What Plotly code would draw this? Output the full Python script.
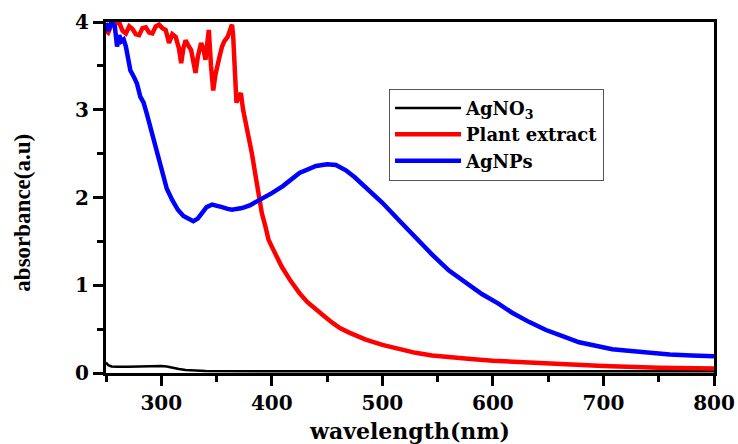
import plotly.graph_objects as go

# ---- data ----
agno3_x = [250, 252, 255, 260, 270, 280, 290, 300, 305, 310, 316, 322, 328, 340, 400, 500, 600, 700, 800]
agno3_y = [0.12, 0.09, 0.075, 0.07, 0.07, 0.075, 0.08, 0.08, 0.075, 0.06, 0.045, 0.035, 0.028, 0.022, 0.02, 0.02, 0.02, 0.02, 0.02]

plant_x = [250, 252, 255, 258, 262, 265, 268, 271, 274, 277, 280, 283, 286, 289, 292, 295, 298, 301, 304,
           307, 310, 313, 316, 318, 320, 322, 325, 327, 329, 331, 333, 336, 338, 340, 342, 343, 345, 347,
           349, 351, 353, 355, 357, 360, 362, 364, 365, 366, 368, 370, 372, 374, 376, 379, 382, 385, 388,
           391, 394, 397, 400, 405, 409, 417, 425, 432, 440, 448, 455, 462, 470, 485, 500, 515, 530, 545,
           560, 580, 600, 630, 660, 700, 750, 800]
plant_y = [3.9, 3.88, 3.97, 3.99, 3.99, 3.9, 3.87, 3.95, 3.92, 3.86, 3.85, 3.93, 3.94, 3.88, 3.87, 3.95, 3.97,
           3.93, 3.91, 3.76, 3.86, 3.83, 3.7, 3.53, 3.7, 3.79, 3.72, 3.68, 3.55, 3.42, 3.6, 3.76, 3.7, 3.57,
           3.8, 3.91, 3.5, 3.22, 3.4, 3.49, 3.62, 3.72, 3.78, 3.83, 3.9, 3.97, 3.85, 3.57, 3.08, 3.15, 3.19,
           3.0, 2.88, 2.69, 2.5, 2.27, 2.02, 1.82, 1.68, 1.52, 1.44, 1.3, 1.21, 1.05, 0.91, 0.81, 0.72, 0.64,
           0.57, 0.51, 0.46, 0.38, 0.32, 0.27, 0.23, 0.2, 0.18, 0.16, 0.14, 0.12, 0.1, 0.08, 0.06, 0.05]

agnps_x = [250, 252, 255, 258, 260, 262, 264, 266, 268, 270, 272, 275, 278, 281, 284, 287, 290, 295, 300,
           305, 310, 315, 320, 325, 329, 333, 337, 341, 346, 350, 355, 360, 364, 368, 373, 380, 386, 392,
           400, 410, 425, 440, 450, 458, 467, 475, 485, 500, 515, 530, 545, 560, 575, 590, 605, 617, 633,
           648, 663, 678, 693, 708, 725, 740, 760, 780, 800]
agnps_y = [3.99, 3.9, 4.0, 3.95, 3.72, 3.85, 3.78, 3.8, 3.72, 3.6, 3.45, 3.38, 3.3, 3.15, 3.08, 2.95, 2.8,
           2.58, 2.3, 2.1, 1.97, 1.86, 1.79, 1.75, 1.73, 1.76, 1.83, 1.89, 1.92, 1.91, 1.89, 1.87, 1.86,
           1.87, 1.88, 1.91, 1.95, 1.99, 2.05, 2.13, 2.28, 2.36, 2.38, 2.37, 2.31, 2.23, 2.12, 1.94, 1.74,
           1.54, 1.35, 1.17, 1.03, 0.9, 0.79, 0.69, 0.58, 0.49, 0.42, 0.35, 0.31, 0.27, 0.25, 0.23, 0.21,
           0.2, 0.19]

series_names = ["AgNO<sub>3</sub>", "Plant extract", "AgNPs"]
series_colors = ["#000000", "#ff0000", "#0000ff"]

x_ticks = [300, 400, 500, 600, 700, 800]
y_ticks = [0, 1, 2, 3, 4]

FONT = "DejaVu Serif"

fig = go.Figure()
fig.add_trace(go.Scatter(x=agno3_x, y=agno3_y, mode="lines", name=series_names[0],
                         line=dict(color=series_colors[0], width=2.5)))
fig.add_trace(go.Scatter(x=plant_x, y=plant_y, mode="lines", name=series_names[1],
                         line=dict(color=series_colors[1], width=4.5)))
fig.add_trace(go.Scatter(x=agnps_x, y=agnps_y, mode="lines", name=series_names[2],
                         line=dict(color=series_colors[2], width=4.5)))

axis_common = dict(showline=True, linecolor="black", linewidth=3, mirror=True, automargin=False,
                   showgrid=False, zeroline=False, ticks="outside", tickcolor="black",
                   tickwidth=2.5, ticklen=10,
                   tickfont=dict(family=FONT, size=20, color="black", weight="bold"))

fig.update_xaxes(range=[250, 800], tickvals=x_ticks, ticktext=[str(v) for v in x_ticks],
                 minor=dict(ticks="outside", dtick=50, tick0=250, ticklen=6, tickwidth=2.5, tickcolor="black"),
                 title=dict(text="wavelength(nm)", standoff=10,
                            font=dict(family=FONT, size=22, color="black", weight="bold")),
                 **axis_common)
fig.update_yaxes(range=[0, 4], tickvals=y_ticks, ticktext=[str(v) for v in y_ticks],
                 minor=dict(ticks="outside", dtick=0.5, tick0=0, ticklen=6, tickwidth=2.5, tickcolor="black"),
                 **axis_common)

fig.add_annotation(text="absorbance(a.u)", textangle=-90, xref="paper", yref="paper",
                   x=-0.137, y=0.456, showarrow=False, xanchor="center", yanchor="middle",
                   font=dict(family="Liberation Serif", size=23, color="black", weight="bold"))

fig.update_layout(
    width=738, height=444,
    margin=dict(l=106, r=24, t=22, b=71),
    paper_bgcolor="white", plot_bgcolor="white",
    showlegend=True,
    legend=dict(x=0.4655, y=0.81, xanchor="left", yanchor="top",
                bgcolor="white", bordercolor="#555555", borderwidth=1,
                font=dict(family=FONT, size=18, color="black", weight="bold"),
                tracegroupgap=0, itemwidth=66),
)

fig.write_html("out.html", config={"displayModeBar": False},
               post_script="document.body.style.margin='0px';document.body.style.overflow='hidden';")
